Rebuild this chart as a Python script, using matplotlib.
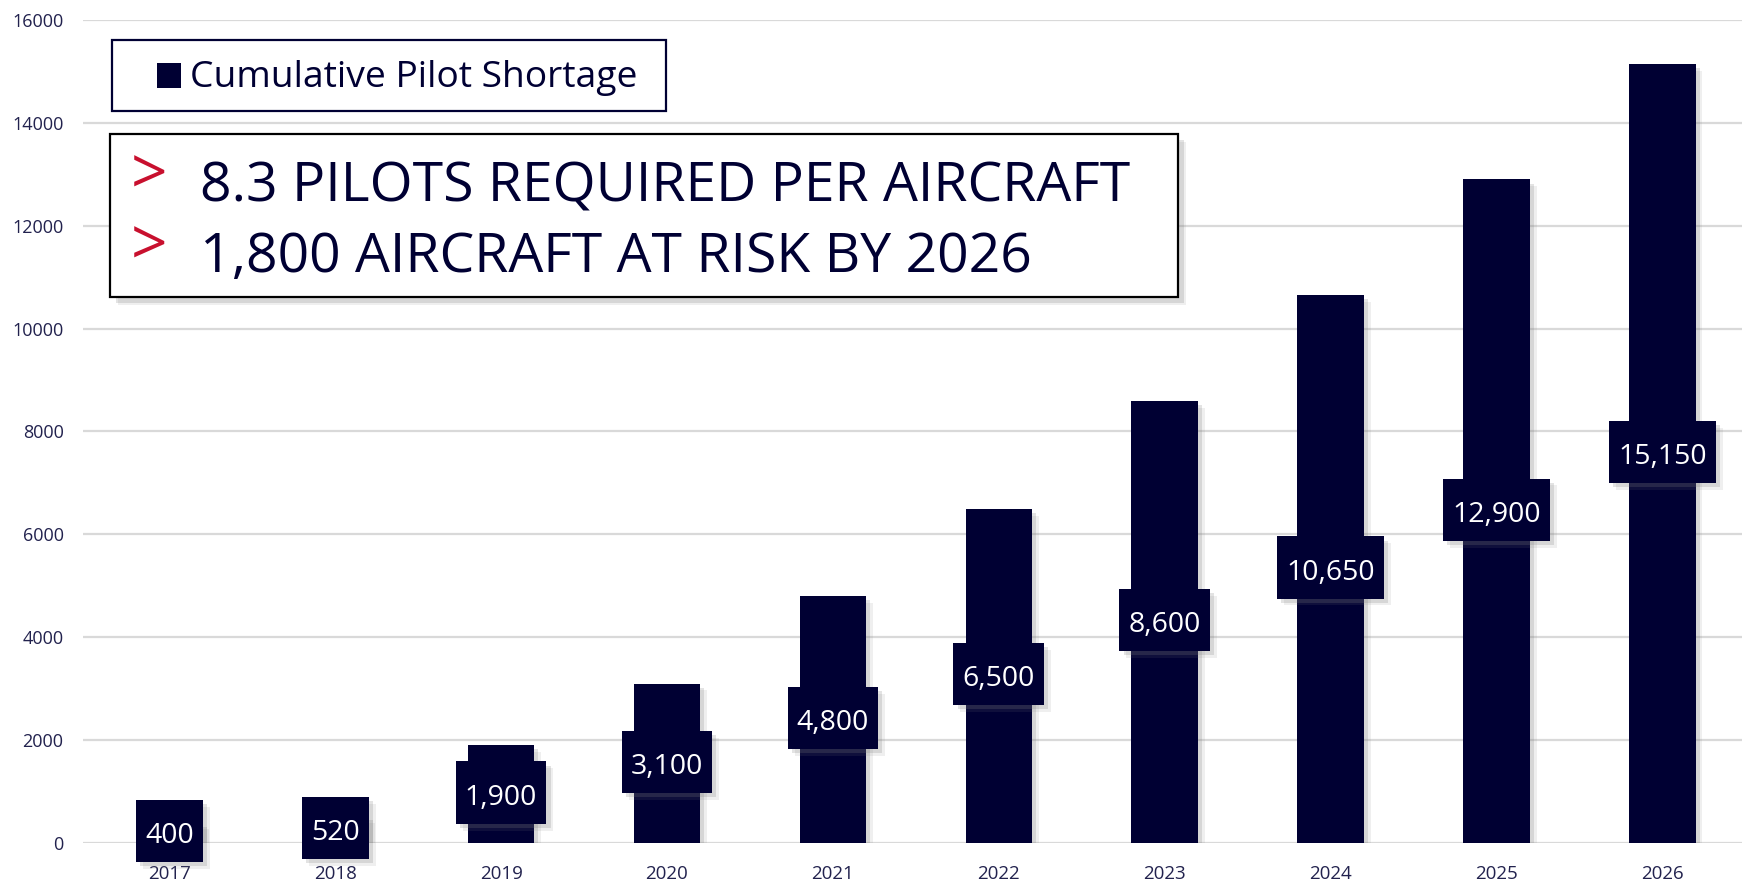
import matplotlib
matplotlib.use("Agg")
import matplotlib.pyplot as plt
import matplotlib.patheffects as pe
from matplotlib.patches import Rectangle
from matplotlib.path import Path

# ---------------------------------------------------------
# DATA
# ---------------------------------------------------------

years = ["2017", "2018", "2019", "2020", "2021", "2022", "2023", "2024", "2025", "2026"]
shortage = [400, 520, 1900, 3100, 4800, 6500, 8600, 10650, 12900, 15150]
y_ticks = [0, 2000, 4000, 6000, 8000, 10000, 12000, 14000, 16000]

legend_label = "Cumulative Pilot Shortage"
callout_lines = ["8.3 PILOTS REQUIRED PER AIRCRAFT", "1,800 AIRCRAFT AT RISK BY 2026"]

# ---------------------------------------------------------
# STYLE
# ---------------------------------------------------------

NAVY = "#000033"
TICK_COLOR = "#22224e"
GRID_COLOR = "#d9d9d9"
RED = "#c8102e"

plt.rcParams['font.family'] = ['Open Sans', 'DejaVu Sans']

W, H = 1742, 886


def fx(px):
    return px / W


def fy(py):
    return 1 - py / H


def soft_shadow(dx=3, dy=-3):
    # two faint layers give a softer edge than one hard offset
    return [pe.SimplePatchShadow(offset=(dx + 2, dy - 2), shadow_rgbFace="#808080", alpha=0.12),
            pe.SimplePatchShadow(offset=(dx, dy), shadow_rgbFace="#808080", alpha=0.22),
            pe.Normal()]


def wide_box(x0, y0, width, height, mutation_size):
    # rectangle with more padding top/bottom than left/right,
    # a bit extra on top so the digits sit in the middle
    px = 0.32 * mutation_size
    top = 0.78 * mutation_size
    bottom = 0.42 * mutation_size
    x1, y1 = x0 + width + px, y0 + height + top
    x0, y0 = x0 - px, y0 - bottom
    return Path([(x0, y0), (x1, y0), (x1, y1), (x0, y1), (x0, y0)], closed=True)


fig = plt.figure(figsize=(W / 100, H / 100), dpi=100)
ax = fig.add_axes([fx(83), fy(843), 1 - fx(83), fy(20) - fy(843)])

# ---------------------------------------------------------
# BARS
# ---------------------------------------------------------

x = list(range(len(years)))
bars = ax.bar(x, shortage, width=0.4, color=NAVY, zorder=3)
for b in bars:
    b.set_path_effects(soft_shadow())

# value boxes sit halfway up each bar
for i, v in enumerate(shortage):
    t = ax.text(i, v / 2, f"{v:,}", ha="center", va="center_baseline", color="white",
                fontsize=20.5, zorder=5, clip_on=False,
                bbox=dict(boxstyle=wide_box, fc=NAVY, ec="none"))
    t.get_bbox_patch().set_path_effects(soft_shadow())

ax.set_xlim(-0.52, 9.48)
ax.set_ylim(0, 16000)
ax.set_yticks(y_ticks)
ax.set_xticks(x, years)
ax.yaxis.grid(True, color=GRID_COLOR, lw=1.6)
ax.set_axisbelow(True)
for s in ax.spines.values():
    s.set_visible(False)
ax.tick_params(length=0, colors=TICK_COLOR, labelsize=13)
ax.tick_params(axis="x", pad=16, labelsize=13.5)
ax.tick_params(axis="y", pad=14)

# ---------------------------------------------------------
# LEGEND BOX
# ---------------------------------------------------------

fig.patches.append(Rectangle((fx(112), fy(111)), fx(666) - fx(112), fy(40) - fy(111),
                             transform=fig.transFigure, fc="white", ec=NAVY, lw=1.6,
                             zorder=10))
fig.patches.append(Rectangle((fx(157), fy(88)), fx(181) - fx(157), fy(63) - fy(88),
                             transform=fig.transFigure, fc=NAVY, ec="none", zorder=11))
fig.text(fx(190), fy(78), legend_label, fontsize=26.8, color=NAVY,
         ha="left", va="center", zorder=12)

# ---------------------------------------------------------
# CALLOUT BOX
# ---------------------------------------------------------

callout = Rectangle((fx(110), fy(297)), fx(1178) - fx(110), fy(134) - fy(297),
                    transform=fig.transFigure, fc="white", ec="black", lw=1.6,
                    zorder=10)
callout.set_path_effects(soft_shadow(4, -4))
fig.patches.append(callout)

for line, base in zip(callout_lines, [201, 272]):
    fig.text(fx(131), fy(base - 6), ">", fontsize=46, color=RED,
             ha="left", va="baseline", zorder=12)
    fig.text(fx(200), fy(base), line, fontsize=39.8, color=NAVY,
             ha="left", va="baseline", zorder=12)

fig.savefig("out.png", dpi=100, facecolor="white")
